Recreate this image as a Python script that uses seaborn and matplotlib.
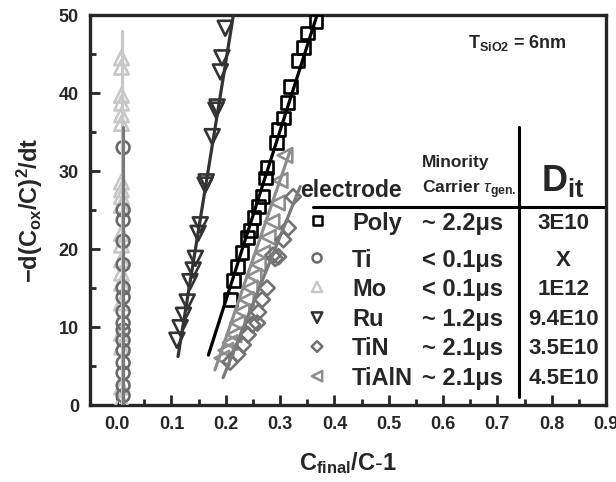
import numpy as np
import pandas as pd
import matplotlib
matplotlib.use("Agg")
import matplotlib.pyplot as plt
from matplotlib.ticker import MultipleLocator
import seaborn as sns

# ---------------- data ----------------
poly_x = [0.208, 0.214, 0.222, 0.230, 0.240, 0.245, 0.252, 0.260, 0.267, 0.273,
          0.276, 0.293, 0.297, 0.306, 0.313, 0.319, 0.333, 0.343, 0.350, 0.366]
poly_y = [13.5, 16.0, 17.8, 19.6, 21.5, 22.4, 24.0, 25.4, 26.7, 29.1,
          30.5, 33.7, 35.3, 36.8, 38.8, 40.8, 44.2, 45.8, 47.7, 49.2]

ti_x = [0.011] * 16
ti_y = [33.0, 23.7, 21.0, 18.0, 15.0, 13.8, 12.0, 9.6, 8.3, 7.0, 5.4, 4.1, 2.5, 1.2, 25.0, 10.5]

mo_x = [0.008] * 20
mo_y = [44.5, 43.3, 39.7, 38.7, 37.2, 36.1, 28.6, 27.6, 26.7, 25.6,
        22.0, 18.6, 16.9, 15.6, 13.1, 9.2, 7.4, 2.3, 0.6, 20.5]

ru_x = [0.199, 0.193, 0.190, 0.182, 0.184, 0.175, 0.162, 0.164, 0.153, 0.149,
        0.144, 0.140, 0.134, 0.129, 0.122, 0.116, 0.110]
ru_y = [48.3, 44.5, 42.7, 37.8, 38.2, 34.4, 28.2, 28.6, 23.1, 22.0,
        18.8, 17.3, 15.8, 13.2, 11.5, 9.9, 8.3]

tin_x = [0.208, 0.222, 0.232, 0.241, 0.249, 0.258, 0.260, 0.267, 0.276, 0.287,
         0.291, 0.297, 0.306, 0.315, 0.324]
tin_y = [5.5, 6.5, 7.7, 9.0, 10.3, 10.5, 11.9, 13.5, 15.0, 19.2,
         18.8, 19.0, 21.2, 22.7, 26.7]

tialn_x = [0.193, 0.200, 0.208, 0.215, 0.222, 0.230, 0.238, 0.245, 0.252, 0.260,
           0.268, 0.278, 0.285, 0.295, 0.300, 0.309]
tialn_y = [6.0, 7.0, 8.0, 9.0, 10.5, 12.0, 13.5, 15.0, 16.5, 18.0,
           19.5, 21.5, 23.5, 25.9, 28.8, 32.0]

# fitted lines (endpoints)
poly_fit_x, poly_fit_y = [0.168, 0.368], [6.4, 50.0]
ru_fit_x, ru_fit_y = [0.112, 0.214], [6.2, 50.0]
ti_fit_x, ti_fit_y = [0.011, 0.011], [0.0, 35.6]
mo_fit_x, mo_fit_y = [0.008, 0.008], [0.0, 48.0]
tin_fit_x, tin_fit_y = [0.195, 0.337], [3.5, 28.0]
tialn_fit_x, tialn_fit_y = [0.180, 0.318], [4.5, 32.5]

electrodes = ["Poly", "Ti", "Mo", "Ru", "TiN", "TiAlN"]
tau_gen = ["~ 2.2\u03bcs", "< 0.1\u03bcs", "< 0.1\u03bcs", "~ 1.2\u03bcs", "~ 2.1\u03bcs", "~ 2.1\u03bcs"]
dit = ["3E10", "X", "1E12", "9.4E10", "3.5E10", "4.5E10"]

x_ticks = [0.0, 0.1, 0.2, 0.3, 0.4, 0.5, 0.6, 0.7, 0.8, 0.9]
y_ticks = [0, 10, 20, 30, 40, 50]

# ---------------- style ----------------
sns.set_style("ticks")
plt.rcParams['font.family'] = ['Liberation Sans', 'DejaVu Sans']
plt.rcParams['mathtext.fontset'] = 'custom'
plt.rcParams['mathtext.rm'] = 'Liberation Sans'
plt.rcParams['mathtext.bf'] = 'Liberation Sans:bold'
plt.rcParams['mathtext.it'] = 'Liberation Sans:italic'
plt.rcParams['mathtext.sf'] = 'Liberation Sans'

fig = plt.figure(figsize=(6.16, 4.82), dpi=100)
ax = fig.add_axes([90 / 616, 1 - 405 / 482, 516 / 616, 390 / 482])

styles = {
    "Poly": dict(marker="s", color="#000000", s=85, lc="#000000"),
    "Ti": dict(marker="o", color="#6a6a6a", s=85, lc="#7a7a7a"),
    "Mo": dict(marker="^", color="#c8c8c8", s=110, lc="#c8c8c8"),
    "Ru": dict(marker="v", color="#333333", s=115, lc="#333333"),
    "TiN": dict(marker="D", color="#727272", s=60, lc="#7a7a7a"),
    "TiAlN": dict(marker="<", color="#8e8e8e", s=110, lc="#8e8e8e"),
}

series = {
    "Mo": (mo_x, mo_y, mo_fit_x, mo_fit_y),
    "Ti": (ti_x, ti_y, ti_fit_x, ti_fit_y),
    "TiAlN": (tialn_x, tialn_y, tialn_fit_x, tialn_fit_y),
    "TiN": (tin_x, tin_y, tin_fit_x, tin_fit_y),
    "Ru": (ru_x, ru_y, ru_fit_x, ru_fit_y),
    "Poly": (poly_x, poly_y, poly_fit_x, poly_fit_y),
}

for name, (xs, ys, fx, fy) in series.items():
    st = styles[name]
    sns.scatterplot(x=xs, y=ys, marker=st["marker"], s=st["s"], color=st["color"],
                    facecolor="none", edgecolor=st["color"], linewidth=1.9, ax=ax,
                    legend=False, zorder=3)
    sns.lineplot(x=fx, y=fy, color=st["lc"], lw=2.3, estimator=None, sort=False,
                 ax=ax, legend=False, zorder=4)

ax.set_xlim(-0.05, 0.9)
ax.set_ylim(0, 50)
ax.set_xticks(x_ticks)
ax.set_xticklabels([f"{v:.1f}" for v in x_ticks])
ax.set_yticks(y_ticks)
ax.xaxis.set_minor_locator(MultipleLocator(0.05))
ax.yaxis.set_minor_locator(MultipleLocator(5))
ax.tick_params(which="major", direction="in", length=7, width=2, labelsize=13, pad=8)
ax.tick_params(which="minor", direction="in", length=4, width=2)
for lab in ax.get_xticklabels() + ax.get_yticklabels():
    lab.set_fontweight("bold")
for sp in ax.spines.values():
    sp.set_linewidth(2.4)
    sp.set_visible(True)

ax.set_xlabel(r"$\mathbf{C_{final}/C\text{-}1}$", fontsize=17, labelpad=12)
ax.set_ylabel(r"$\mathbf{-d(C_{ox}/C)^{2}/dt}$", fontsize=17, labelpad=10)

# ---------------- table annotation ----------------
tr = ax.transAxes
ax.text(0.829, 0.928, r"$\mathbf{T_{SiO2}}$ = 6nm", transform=tr, ha="center", va="center",
        fontsize=13, fontweight="bold")
ax.plot([0.831, 0.831], [0.021, 0.713], transform=tr, color="black", lw=2.2, clip_on=False)
ax.plot([0.432, 1.0], [0.508, 0.508], transform=tr, color="black", lw=2.2, clip_on=False)
ax.text(0.408, 0.551, "electrode", transform=tr, ha="left", va="center",
        fontsize=16.5, fontweight="bold")
ax.text(0.643, 0.623, "Minority", transform=tr, ha="left", va="center",
        fontsize=12.5, fontweight="bold")
ax.text(0.643, 0.553, r"$\mathbf{Carrier}\ \tau_{\mathbf{gen.}}$", transform=tr,
        ha="left", va="center", fontsize=12.5)
ax.text(0.917, 0.575, r"$\mathbf{D_{it}}$", transform=tr, ha="center", va="center",
        fontsize=26)

row_y = [0.466, 0.371, 0.297, 0.218, 0.144, 0.068]
for name, tau, d, yy in zip(electrodes, tau_gen, dit, row_y):
    st = styles[name]
    ax.scatter([0.44], [yy + 0.006], transform=tr, marker=st["marker"], s=st["s"] * 0.5,
               facecolor="none", edgecolor=st["color"], linewidth=1.8, clip_on=False, zorder=5)
    ax.text(0.508, yy, name, transform=tr, ha="left", va="center",
            fontsize=17, fontweight="bold")
    ax.text(0.643, yy, tau, transform=tr, ha="left", va="center",
            fontsize=17, fontweight="bold")
    ax.text(0.918, yy, d, transform=tr, ha="center", va="center",
            fontsize=16, fontweight="bold")

fig.savefig("out.png", dpi=100)
